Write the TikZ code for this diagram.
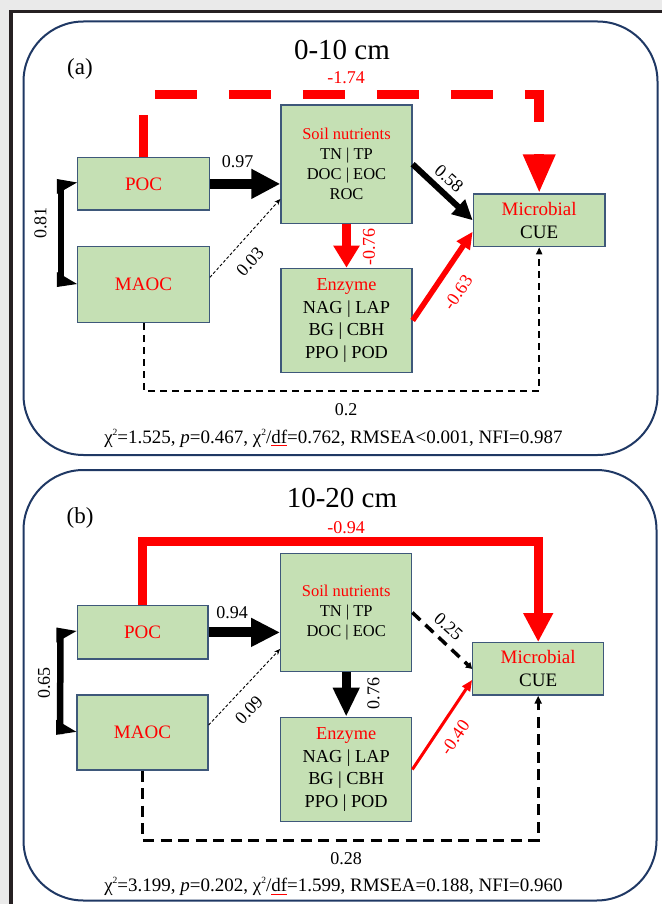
\documentclass[tikz,border=0pt]{standalone}
\usepackage{fontspec}
\setmainfont{Liberation Serif}
\usetikzlibrary{arrows.meta,calc}
\definecolor{boxfill}{RGB}{197,224,180}
\definecolor{boxline}{RGB}{62,88,122}
\definecolor{panelc}{RGB}{31,56,100}
\definecolor{framec}{RGB}{38,32,34}
\definecolor{outerc}{RGB}{234,234,234}
\newcommand\redul[1]{\setbox0=\hbox{#1}\rlap{\textcolor{red}{\rule[-2.6pt]{\wd0}{0.7pt}}}\box0}
\newcommand\sqtwo{\raisebox{0.42em}{\fontsize{9.5}{10}\selectfont 2}}
\tikzset{
  box/.style={draw=boxline, line width=1.3pt, fill=boxfill, inner sep=0pt, align=center},
  oc/.style={box, text=red, font=\fontsize{19}{23}\selectfont},
  soil/.style={box, font=\fontsize{16.5}{20}\selectfont},
  enz/.style={box, font=\fontsize{18.3}{22.7}\selectfont},
  cue/.style={box, font=\fontsize{19}{23}\selectfont},
  lbl/.style={font=\fontsize{18}{20}\selectfont, inner sep=1pt},
  ttl/.style={font=\fontsize{29}{32}\selectfont, inner sep=0pt},
  tag/.style={font=\fontsize{23}{26}\selectfont, inner sep=0pt},
  stat/.style={font=\fontsize{19}{20}\selectfont, inner sep=0pt},
  panel/.style={draw=panelc, line width=2pt, rounded corners=60pt},
  dotarrow/.style={line width=0.9pt, dash pattern=on 3pt off 2pt, -{Stealth[length=6pt,width=5pt]}},
  bar/.style={line width=6.5pt},
}
\begin{document}
\begin{tikzpicture}[x=1pt,y=-1pt]
\useasboundingbox (0,0) rectangle (662,904);
% page frame
\fill[outerc] (0,0) rectangle (662,904);
\fill[framec] (9.3,10) rectangle (662,904);
\fill[white] (13.3,13.4) rectangle (662,904);

% ================= panel (a) =================
\draw[panel] (23.5,21.5) rectangle (657.5,455);
\node[ttl] (titA) at (342,50) {0-10 cm};
\node[tag] (tagA) at (80,69) {(a)};

\node[oc, minimum width=131.6pt, minimum height=52.3pt] (pocA) at (143.5,183.9) {POC};
\node[oc, minimum width=131.6pt, minimum height=76pt] (maocA) at (143.5,284.7) {MAOC};
\node[soil, minimum width=131pt, minimum height=118.3pt] (soilA) at (346.5,164.2)
  {\textcolor{red}{Soil nutrients}\\TN | TP\\DOC | EOC\\ROC};
\node[enz, minimum width=131pt, minimum height=104.4pt] (enzA) at (346.5,320.5)
  {\textcolor{red}{Enzyme}\\NAG | LAP\\BG | CBH\\PPO | POD};
\node[cue, minimum width=131.7pt, minimum height=52.7pt] (cueA) at (539.2,220.3)
  {\textcolor{red}{Microbial}\\CUE};

\coordinate (topA) at (0,94.5);
\coordinate (botA) at (0,390.7);
\draw[red, line width=9.5pt, dash pattern=on 42pt off 32pt, -{Triangle[length=39pt,width=30pt]}]
  (pocA.north) -- (pocA.north |- topA) -| (cueA.north);
\draw[line width=10pt, -{Triangle[length=29pt,width=28pt]}] (pocA.east) -- (soilA.west |- pocA.east);
\draw[red, line width=9pt, -{Triangle[length=22pt,width=25pt]}] (soilA.south) -- (enzA.north);
\draw[line width=6pt, -{Triangle[length=20pt,width=19pt]}] (soilA.east) -- (cueA.west);
\draw[red, line width=5.5pt, -{Triangle[length=17pt,width=15pt]}] (enzA.east) -- ($(cueA.west)+(0,11.4)$);
\draw[dotarrow] ($(maocA.east)+(0,-7.4)$) -- ($(soilA.south west)+(0,-25)$);
\draw[line width=2pt, dash pattern=on 7pt off 5pt, -{Triangle[length=7pt,width=6pt]}]
  (maocA.south) -- (maocA.south |- botA) -| (cueA.south);
% bracket
\draw[bar] ($(pocA.west)+(-16.2,-2)$) -- ($(maocA.west)+(-16.2,1.5)$);
\fill ($(pocA.west)+(-20.2,-4.9)$) -- ($(pocA.west)+(0,-1.4)$) -- ($(pocA.west)+(-20.2,10.1)$) -- cycle;
\fill ($(maocA.west)+(-20.2,2.3)$) -- ($(maocA.west)+(0,-0.7)$) -- ($(maocA.west)+(-20.2,-12.7)$) -- cycle;

\node[lbl, text=red] (l174) at (346,77.5) {-1.74};
\node[lbl] (l097) at (237.5,161.5) {0.97};
\node[lbl, rotate=-41.4, fill=white, inner sep=2.5pt] (l058) at (449,179) {0.58};
\node[lbl, text=red, rotate=90] (l076) at (369,247) {-0.76};
\node[lbl, text=red, rotate=55.6] (l063) at (458,292.5) {-0.63};
\node[lbl, rotate=47.8] (l003) at (250,262) {0.03};
\node[lbl, rotate=90] (l081) at (40.5,223) {0.81};
\node[lbl] (l02) at (346,410) {0.2};
\node[stat] (statA) at (333.5,438) {χ\sqtwo=1.525, \textit{p}=0.467, χ\sqtwo/\redul{df}=0.762, RMSEA<0.001, NFI=0.987};

% ================= panel (b) =================
\draw[panel] (23.5,470) rectangle (656.5,900.5);
\node[ttl] (titB) at (342,498) {10-20 cm};
\node[tag] (tagB) at (80,517.5) {(b)};

\node[oc, minimum width=130.8pt, minimum height=53.3pt] (pocB) at (142.6,632.4) {POC};
\node[oc, minimum width=131pt, minimum height=75pt] (maocB) at (142.5,732.5) {MAOC};
\node[soil, minimum width=130.9pt, minimum height=118.4pt] (soilB) at (346.2,612.5)
  {\textcolor{red}{Soil nutrients}\\TN | TP\\DOC | EOC};
\node[enz, minimum width=130.9pt, minimum height=104.4pt] (enzB) at (346.2,769.5)
  {\textcolor{red}{Enzyme}\\NAG | LAP\\BG | CBH\\PPO | POD};
\node[cue, minimum width=130.8pt, minimum height=52.3pt] (cueB) at (538.2,668.9)
  {\textcolor{red}{Microbial}\\CUE};

\coordinate (topB) at (0,541.7);
\coordinate (botB) at (0,840);
\draw[red, line width=9pt, -{Triangle[length=29pt,width=28pt]}]
  (pocB.north) -- (pocB.north |- topB) -| (cueB.north);
\draw[line width=10pt, -{Triangle[length=29pt,width=27pt]}] (pocB.east) -- (soilB.west |- pocB.east);
\draw[line width=9pt, -{Triangle[length=29pt,width=25pt]}] (soilB.south) -- (enzB.north);
\draw[line width=3.5pt, dash pattern=on 11pt off 7pt, -{Triangle[length=6pt,width=7pt]}] (soilB.east) -- (cueB.west);
\draw[red, line width=3pt, -{Triangle[length=11pt,width=9pt]}] (enzB.east) -- ($(cueB.west)+(0,11)$);
\draw[dotarrow] ($(maocB.east)+(0,-7.5)$) -- ($(soilB.south west)+(0,-23.4)$);
\draw[line width=3pt, dash pattern=on 11pt off 6.5pt, -{Triangle[length=8pt,width=7pt]}]
  (maocB.south) -- (maocB.south |- botB) -| (cueB.south);
% bracket
\draw[bar] ($(pocB.west)+(-16.2,-2)$) -- ($(maocB.west)+(-16.2,1.5)$);
\fill ($(pocB.west)+(-20.2,-4.9)$) -- ($(pocB.west)+(0,-1.4)$) -- ($(pocB.west)+(-20.2,10.1)$) -- cycle;
\fill ($(maocB.west)+(-20.2,2.3)$) -- ($(maocB.west)+(0,-0.7)$) -- ($(maocB.west)+(-20.2,-12.7)$) -- cycle;

\node[lbl, text=red] (l094r) at (346,528) {-0.94};
\node[lbl] (l094) at (232,612.7) {0.94};
\node[lbl, rotate=-41.5] (l025) at (448.5,627) {0.25};
\node[lbl, rotate=90] (l076b) at (373.6,693.3) {0.76};
\node[lbl, text=red, rotate=55.2] (l040) at (455,737.5) {-0.40};
\node[lbl, rotate=46.4] (l009) at (249,710) {0.09};
\node[lbl, rotate=90] (l065) at (44,683) {0.65};
\node[lbl] (l028) at (346,858.3) {0.28};
\node[stat] (statB) at (333.5,886.7) {χ\sqtwo=3.199, \textit{p}=0.202, χ\sqtwo/\redul{df}=1.599, RMSEA=0.188, NFI=0.960};
\end{tikzpicture}
\end{document}
